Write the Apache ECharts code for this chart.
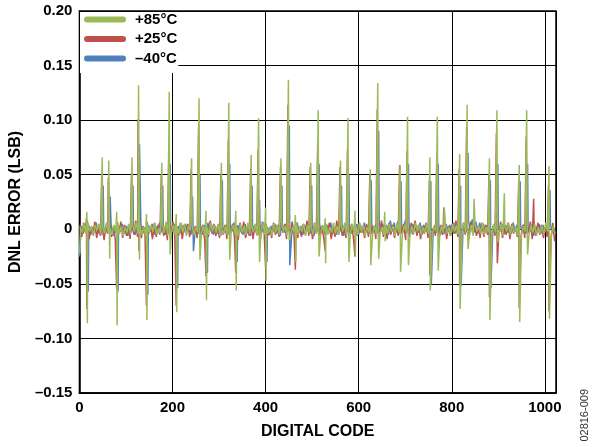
<!DOCTYPE html>
<html>
<head>
<meta charset="utf-8">
<script src="https://cdn.jsdelivr.net/npm/echarts@6/dist/echarts.min.js"></script>
<style>
html,body{margin:0;padding:0;background:#fff;}
#chart{width:597px;height:447px;}
</style>
</head>
<body>
<div id="chart"></div>
<script>
// ---------- DATA ----------
const seriesNames = ['+85°C', '+25°C', '\u201340°C'];
const xTickValues = [0, 200, 400, 600, 800, 1000];
const yTickLabels = ['\u20130.15', '\u20130.10', '\u20130.05', '0', '0.05', '0.10', '0.15', '0.20'];

// background noise band, one reading every 4 codes (in thousandths of an LSB)
const noiseStep = 4;
const greenNoise = [
 2,-3,5,-4,6,-2,3,-6,4,-1,5,-5,2,-4,6,-3,1,-5,4,-2,7,-4,3,-6,2,-3,5,-5,4,-2,6,-4,
 3,-5,2,-6,5,-3,4,-2,6,-5,1,-4,5,-3,7,-6,3,-2,4,-5,2,-4,6,-3,5,-6,3,-1,4,-5,2,-3,
 5,-4,3,-6,2,-5,6,-2,4,-3,5,-6,1,-4,3,-5,6,-2,4,-4,2,-6,5,-3,3,-5,6,-4,2,-2,5,-6,
 4,-2,6,-5,3,-4,2,-6,5,-3,4,-5,7,-2,3,-6,4,-4,2,-3,6,-5,3,-2,5,-6,4,-3,2,-5,6,-4,
 3,-6,4,-2,5,-5,2,-3,6,-4,3,-5,4,-2,6,-6,2,-4,5,-3,3,-5,6,-2,4,-6,2,-3,5,-4,3,-5,
 6,-3,2,-5,4,-4,5,-2,3,-6,6,-3,2,-5,4,-2,5,-6,3,-4,6,-2,4,-5,2,-3,5,-4,6,-6,3,-2,
 4,-5,3,-3,6,-4,2,-6,5,-2,4,-5,3,-4,6,-3,2,-5,4,-6,5,-2,3,-4,6,-5,2,-3,4,-6,5,-3,
 2,-4,5,-6,3,-2,6,-5,4,-3,2,-6,5,-4,3,-2,6,-5,4,-3,5,-6,2,-4,3,-5,6,-2,4,-5,3,-4
];
const redNoise = [
 4,-7,6,-3,8,-9,2,-5,7,-8,3,-6,5,-10,4,-4,6,-7,2,-9,5,-3,7,-8,4,-6,3,-9,6,-5,8,-7,
 5,-8,3,-6,7,-4,2,-9,6,-7,4,-5,8,-6,3,-10,5,-4,7,-8,2,-6,6,-9,4,-3,5,-7,8,-5,3,-8,
 6,-5,4,-9,3,-7,8,-4,5,-6,2,-8,7,-5,4,-9,6,-3,5,-7,3,-10,6,-4,7,-8,2,-6,5,-9,4,-5,
 3,-9,7,-4,5,-6,2,-8,6,-5,4,-7,8,-3,5,-9,3,-6,7,-4,6,-8,2,-7,5,-5,8,-6,3,-9,6,-4,
 7,-6,3,-8,5,-4,6,-9,2,-7,8,-5,4,-6,3,-8,7,-4,5,-9,4,-6,6,-3,2,-8,5,-7,7,-5,3,-9,
 5,-4,8,-7,3,-9,6,-5,4,-8,2,-6,7,-4,5,-10,3,-7,6,-5,8,-6,4,-9,3,-4,6,-8,5,-7,2,-6,
 6,-8,4,-5,7,-9,3,-6,5,-4,8,-7,2,-8,6,-5,4,-9,7,-3,5,-6,3,-8,6,-7,4,-5,8,-9,3,-6,
 4,-6,7,-8,3,-5,6,-9,5,-4,2,-7,8,-6,4,-8,5,-3,7,-9,3,-6,6,-5,4,-8,2,-7,5,-10,6,-11
];
const blueNoise = [
 -6,3,-4,5,-2,4,-5,2,-3,6,-4,3,-5,2,-4,5,-3,4,-6,2,-5,3,-2,5,-4,3,-6,4,-3,2,-5,4,
 -3,5,-4,2,-6,4,-2,5,-5,3,-4,6,-3,2,-5,4,-4,3,-2,5,-6,3,-4,4,-3,5,-2,3,-5,4,-4,2,
 -4,3,-5,4,-3,6,-2,4,-5,3,-4,5,-6,2,-3,4,-5,3,-2,6,-4,4,-3,2,-5,5,-4,3,-6,4,-2,5,
 -5,4,-3,6,-4,2,-5,3,-2,5,-4,4,-6,3,-3,5,-2,4,-5,2,-4,6,-3,3,-5,4,-2,5,-4,3,-6,4,
 -2,5,-4,3,-5,4,-3,6,-4,2,-5,3,-2,4,-6,5,-3,4,-4,3,-2,5,-5,4,-3,6,-2,3,-4,5,-3,4,
 -4,6,-2,5,-3,4,-5,8,-2,6,-3,7,-4,5,-2,8,-3,6,-4,5,-2,4,-3,6,-5,4,-2,3,-4,5,-3,4,
 -3,4,-5,3,-4,5,-2,4,-3,6,-4,3,-5,4,-2,5,-3,8,-2,9,-3,7,-4,6,-2,5,-3,4,-5,3,-4,5,
 -4,3,-2,5,-5,4,-3,3,-4,6,-2,4,-5,3,-3,5,-4,2,-2,4,-6,3,-3,5,-4,4,-2,3,-5,4,-3,2
];

// spikes: [digital code, DNL error]
const greenSpikes = [
 [1,-0.022],[16,0.016],[17,-0.086],[49,0.066],[63,0.063],[65,-0.027],[80,0.016],[81,-0.088],
 [113,0.066],[127,0.132],[129,-0.028],[144,0.014],[145,-0.083],[177,0.061],[193,0.126],[195,-0.023],
 [208,0.014],[209,-0.076],[241,0.065],[257,0.120],[259,-0.028],[272,0.017],[273,-0.065],
 [305,0.061],[321,0.116],[323,-0.028],[336,0.017],[337,-0.056],[369,0.068],[385,0.102],[387,-0.030],
 [400,0.020],[401,-0.047],[433,0.065],[449,0.137],[451,-0.010],[464,0.013],[465,-0.030],
 [497,0.061],[513,0.109],[515,-0.025],[528,0.010],[529,-0.031],[561,0.063],[577,0.102],[579,-0.030],
 [592,0.017],[593,-0.025],[625,0.055],[626,-0.033],[641,0.134],[643,-0.027],[656,0.016],[657,-0.011],
 [689,0.059],[690,-0.039],[705,0.103],[707,-0.033],[753,0.066],[754,-0.056],[769,0.103],[771,-0.038],
 [784,0.020],[817,0.069],[818,-0.073],[833,0.114],[835,-0.018],[848,0.028],[881,0.065],[882,-0.083],
 [897,0.109],[899,-0.012],[913,0.033],[945,0.059],[946,-0.085],[961,0.109],[963,-0.023],
 [1009,0.058],[1010,-0.082]
];
const redSpikes = [
 [15,0.010],[16,-0.073],[48,0.050],[62,0.047],[80,-0.055],[112,0.051],[126,0.101],[128,-0.020],
 [144,-0.070],[176,0.050],[192,0.068],[208,-0.070],[240,0.055],[256,0.094],[272,-0.043],
 [304,0.050],[320,0.082],[336,-0.040],[368,0.055],[384,0.073],[400,-0.035],[432,0.057],[448,0.114],
 [464,-0.037],[496,0.057],[512,0.079],[528,-0.020],[560,0.057],[576,0.072],[592,-0.025],
 [624,0.050],[640,0.110],[688,0.059],[704,0.072],[752,0.045],[753,-0.042],[768,0.069],[783,0.020],
 [816,0.055],[817,-0.050],[832,0.094],[880,0.050],[881,-0.062],[896,0.088],[898,-0.031],
 [944,0.045],[945,-0.072],[960,0.085],[976,0.028],[1008,0.040],[1009,-0.075]
];
const blueSpikes = [
 [0,-0.025],[19,-0.057],[51,0.040],[66,0.030],[83,-0.057],[115,0.040],[129,0.078],[147,-0.060],
 [179,0.040],[195,0.060],[211,-0.054],[243,0.030],[245,-0.020],[259,0.050],[275,-0.040],
 [307,0.045],[323,0.060],[339,-0.030],[371,0.040],[387,0.027],[403,-0.030],[435,0.040],
 [451,0.095],[452,-0.033],[499,0.040],[515,0.060],[563,0.040],[579,0.050],[627,0.045],[643,0.090],
 [691,0.044],[707,0.060],[755,0.044],[756,-0.050],[771,0.060],[819,0.040],[820,-0.052],[835,0.070],
 [883,0.045],[884,-0.054],[899,0.060],[947,0.044],[963,0.060],[1011,0.036]
];

// ---------- BUILD ----------
function buildSeries(noise, offset, spikes) {
  const m = new Map();
  noise.forEach((v, i) => m.set(i * noiseStep + offset, v / 1000));
  spikes.forEach(([c, v]) => m.set(c, v));
  return Array.from(m.entries()).sort((a, b) => a[0] - b[0]);
}
const blueData = buildSeries(blueNoise, 0, blueSpikes);
const redData = buildSeries(redNoise, 1, redSpikes);
const greenData = buildSeries(greenNoise, 2, greenSpikes);

const FONT = '"Liberation Sans", Arial, Helvetica, sans-serif';
const colors = { green: '#9BBB59', red: '#C0504D', blue: '#4F81BD' };
const pill = 'path://M3,0 L39,0 A3,3 0 0 1 39,6 L3,6 A3,3 0 0 1 3,0 Z';

const chart = echarts.init(document.getElementById('chart'), null, { renderer: 'canvas' });
chart.setOption({
  animation: false,
  backgroundColor: '#fff',
  grid: { left: 79, right: 41, top: 11, bottom: 54, show: true, borderColor: '#000', borderWidth: 1.5, backgroundColor: 'transparent' },
  legend: {
    data: [seriesNames[0], seriesNames[1], seriesNames[2]],
    orient: 'vertical', left: 80, top: 12,
    itemWidth: 42, itemHeight: 6, itemGap: 4.5,
    icon: pill,
    backgroundColor: '#fff',
    padding: [0, 1, 7, 4],
    textStyle: { fontFamily: FONT, fontWeight: 'bold', fontSize: 15, lineHeight: 15, color: '#000', padding: [0, 0, 0, 4] }
  },
  xAxis: {
    type: 'value', min: 0, max: 1024, interval: 200,
    name: 'DIGITAL CODE', nameLocation: 'middle', nameGap: 31,
    nameTextStyle: { fontFamily: FONT, fontWeight: 'bold', fontSize: 16, color: '#000' },
    axisLine: { onZero: false, lineStyle: { color: '#000', width: 1.5 } },
    axisTick: { show: false },
    axisLabel: { showMaxLabel: false, fontFamily: FONT, fontWeight: 'bold', fontSize: 15, color: '#000', margin: 7,
      formatter: v => (xTickValues.indexOf(v) >= 0 ? String(v) : '') },
    splitLine: { show: true, lineStyle: { color: '#000', width: 1 } }
  },
  yAxis: {
    type: 'value', min: -0.15, max: 0.2, interval: 0.05,
    name: 'DNL ERROR (LSB)', nameLocation: 'middle', nameGap: 48, nameRotate: 90,
    nameTextStyle: { fontFamily: FONT, fontWeight: 'bold', fontSize: 16, color: '#000' },
    axisLine: { onZero: false, lineStyle: { color: '#000', width: 1.5 } },
    axisTick: { show: false },
    axisLabel: { fontFamily: FONT, fontWeight: 'bold', fontSize: 15, color: '#000', margin: 7,
      formatter: v => yTickLabels[Math.round((v + 0.15) / 0.05)] },
    splitLine: { show: true, lineStyle: { color: '#000', width: 1 } }
  },
  graphic: [{
    type: 'text', left: 579, top: 389, rotation: Math.PI / 2,
    style: { text: '02816-009', fontFamily: FONT, fontSize: 11, fill: '#333' }
  }],
  series: [
    { name: seriesNames[2], type: 'line', data: blueData, showSymbol: false, symbol: 'none', color: colors.blue, lineStyle: { width: 1.5, color: colors.blue }, z: 2 },
    { name: seriesNames[1], type: 'line', data: redData, showSymbol: false, symbol: 'none', color: colors.red, lineStyle: { width: 1.5, color: colors.red }, z: 3 },
    { name: seriesNames[0], type: 'line', data: greenData, showSymbol: false, symbol: 'none', color: colors.green, lineStyle: { width: 1.5, color: colors.green }, z: 4 }
  ]
});
</script>
</body>
</html>
